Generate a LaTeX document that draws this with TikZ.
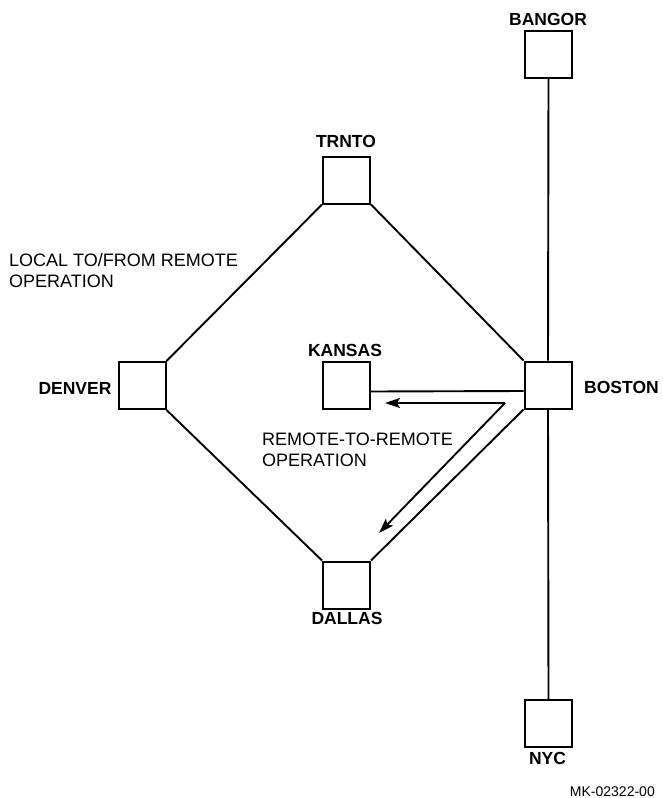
\documentclass[tikz,border=0pt]{standalone}
\usepackage{fontspec}
\setmainfont{Liberation Sans}
\usetikzlibrary{arrows.meta}
\tikzset{
  site/.style={draw, line width=2pt, minimum size=47pt, inner sep=0pt, fill=white},
  sitelabel/.style={inner sep=0pt, anchor=base, font=\bfseries\fontsize{17.5}{20}\selectfont},
  note/.style={inner sep=0pt, anchor=base west, font=\fontsize{18}{22}\selectfont},
  link/.style={line width=1.9pt},
  flow/.style={line width=1.9pt, -{Stealth[length=15pt,width=10pt,inset=3pt]}}
}
\begin{document}
\begin{tikzpicture}[x=1pt,y=-1pt]
\useasboundingbox (0,0) rectangle (662,798);
% sites
\node[site] (bangor) at (548.5,54.5) {};
\node[site] (trnto) at (346.5,180) {};
\node[site] (denver) at (142,385.5) {};
\node[site] (kansas) at (346,385.5) {};
\node[site] (boston) at (548,385) {};
\node[site] (dallas) at (346.5,585) {};
\node[site] (nyc) at (548.5,723.5) {};
% site labels
\node[sitelabel] (lbangor) at (548,25) {BANGOR};
\node[sitelabel] (ltrnto) at (346,147) {TRNTO};
\node[sitelabel] (lkansas) at (345,356) {KANSAS};
\node[sitelabel] (ldenver) at (75,394) {DENVER};
\node[sitelabel] (lboston) at (621.5,393.5) {BOSTON};
\node[sitelabel] (ldallas) at (347,624.5) {DALLAS};
\node[sitelabel] (lnyc) at (547.5,764) {NYC};
% links
\draw[link] (bangor.south) -- (boston.north);
\draw[link] (boston.south) -- (nyc.north);
\draw[link] (trnto.south west) -- (denver.north east);
\draw[link] (trnto.south east) -- (boston.north west);
\draw[link] (denver.south east) -- (dallas.north west);
\draw[link] (boston.south west) -- (dallas.north east);
\draw[link] ([yshift=-6pt]kansas.east) -- ([yshift=-6pt]boston.west);
% remote-to-remote flow
\coordinate (bend) at (505,403);
\coordinate (tipk) at (385,403);
\coordinate (tipd) at (379,533);
\draw[flow] (bend) -- (tipk);
\draw[flow] (bend) -- (tipd);
% notes
\node[note] (local1) at (9,266) {LOCAL TO/FROM REMOTE};
\node[note] (local2) at (9,287) {OPERATION};
\node[note] (remote1) at (262,445) {REMOTE-TO-REMOTE};
\node[note] (remote2) at (262,466) {OPERATION};
\node[inner sep=0pt, anchor=base east, font=\fontsize{14}{16}\selectfont] (mk) at (655,796) {MK-02322-00};
\end{tikzpicture}
\end{document}
